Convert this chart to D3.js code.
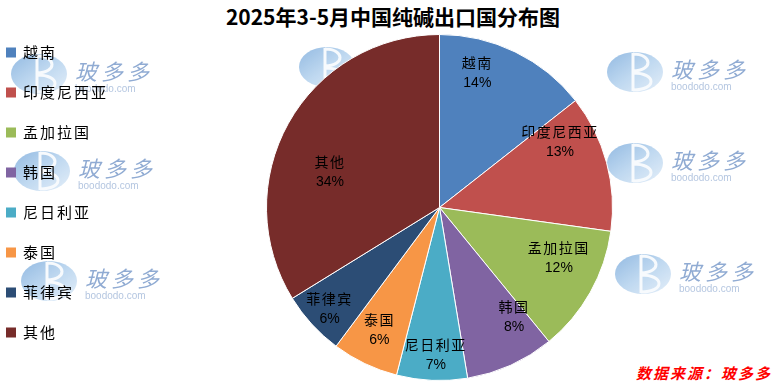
<!DOCTYPE html>
<html>
<head>
<meta charset="utf-8">
<script src="https://cdn.jsdelivr.net/npm/d3@7"></script>
<style>
  html, body { margin: 0; padding: 0; background: #fff; }
  svg { display: block; }
</style>
</head>
<body>
<svg id="chart" width="776" height="392"></svg>
<script>
// ---- data ----
const categories = ["越南", "印度尼西亚", "孟加拉国", "韩国", "尼日利亚", "泰国", "菲律宾", "其他"];
const shares = [14.4, 12.8, 11.9, 8.3, 6.6, 6.2, 6.0, 33.8];
const colors = ["#4F81BD", "#C0504D", "#9BBB59", "#8064A2", "#4BACC6", "#F79646", "#2C4D75", "#772C2A"];
const title = "2025年3-5月中国纯碱出口国分布图";
const source = "数据来源：玻多多";
// label nudges (px) relative to arc centroid, mimicking spreadsheet best-fit placement
const labelNudge = [[-19, -19], [-5, -33], [6, -14], [21, -10], [2, 17], [-4, 4], [-14, 13], [4, 27]];

const svg = d3.select("#chart");
const W = 776, H = 392;
const cx = 439.5, cy = 207.5, R = 173;
const CJK = "'Noto Sans CJK SC', 'Noto Sans', sans-serif";

// ---- watermarks (background) ----
const defs = svg.append("defs");
const grad = defs.append("linearGradient").attr("id", "wmGrad")
  .attr("x1", "0").attr("y1", "0").attr("x2", "1").attr("y2", "1");
grad.append("stop").attr("offset", "0").attr("stop-color", "#6fa3d8");
grad.append("stop").attr("offset", "0.5").attr("stop-color", "#a9cbeb");
grad.append("stop").attr("offset", "1").attr("stop-color", "#dbe9f7");

const watermarks = [[39, 74], [42, 171], [49, 281], [327, 67], [635, 72], [635, 163], [643, 274]];
const wm = svg.append("g").attr("opacity", 0.75);
watermarks.forEach(([x, y]) => {
  const g = wm.append("g").attr("transform", `translate(${x},${y})`);
  g.append("ellipse").attr("rx", 28).attr("ry", 20).attr("fill", "url(#wmGrad)");
  g.append("path")
    .attr("d", "M-2,-19 L-2,19 M-2,-18 C18,-18 18,-1 -2,-1 M-2,1 C22,1 22,18 -2,18")
    .attr("fill", "none").attr("stroke", "#f4f8fc").attr("stroke-width", 3);
  g.append("text").attr("x", 36).attr("y", 6)
    .attr("font-family", CJK).attr("font-size", 22).attr("font-style", "italic")
    .attr("letter-spacing", 4).attr("fill", "#6b8fc4").text("玻多多");
  g.append("text").attr("x", 36).attr("y", 18)
    .attr("font-family", "'Liberation Sans', Arial, sans-serif").attr("font-size", 10)
    .attr("fill", "#9bb3d6").text("boododo.com");
});

// ---- title ----
svg.append("text")
  .attr("x", 393).attr("y", 25)
  .attr("text-anchor", "middle")
  .attr("font-family", CJK)
  .attr("font-weight", "bold")
  .attr("font-size", 21)
  .attr("fill", "#000")
  .text(title);

// ---- pie ----
const pie = d3.pie().value(d => d).sort(null);
const arcs = pie(shares);
const arc = d3.arc().innerRadius(0).outerRadius(R);
const labelArc = d3.arc().innerRadius(130).outerRadius(130);
const color = d3.scaleOrdinal().domain(categories).range(colors);
const total = d3.sum(shares);

const gPie = svg.append("g").attr("transform", `translate(${cx},${cy})`);
gPie.selectAll("path.slice")
  .data(arcs)
  .join("path")
  .attr("class", "slice")
  .attr("d", arc)
  .attr("fill", (d, i) => color(categories[i]))
  .attr("stroke", "#ffffff")
  .attr("stroke-width", 1);

const labels = gPie.selectAll("g.lbl")
  .data(arcs)
  .join("g")
  .attr("class", "lbl")
  .attr("transform", (d, i) => {
    const [x, y] = labelArc.centroid(d);
    return `translate(${x + labelNudge[i][0]},${y + labelNudge[i][1]})`;
  });
labels.append("text")
  .attr("text-anchor", "middle")
  .attr("y", -4)
  .attr("font-family", CJK)
  .attr("font-size", 14)
  .attr("letter-spacing", 1.5)
  .attr("fill", "#000")
  .text((d, i) => categories[i]);
labels.append("text")
  .attr("text-anchor", "middle")
  .attr("y", 15)
  .attr("font-family", "'Liberation Sans', Arial, sans-serif")
  .attr("font-size", 14)
  .attr("fill", "#000")
  .text(d => Math.round(d.data / total * 100) + "%");

// ---- legend ----
const legendY = d3.scalePoint().domain(categories).range([52.5, 332.5]);
const leg = svg.append("g");
const li = leg.selectAll("g").data(categories).join("g")
  .attr("transform", d => `translate(6,${legendY(d)})`);
li.append("rect").attr("x", 0).attr("y", -5).attr("width", 10).attr("height", 10)
  .attr("fill", d => color(d));
li.append("text").attr("x", 17).attr("y", 5.5)
  .attr("font-family", CJK).attr("font-size", 15).attr("letter-spacing", 2)
  .attr("fill", "#000").text(d => d);

// ---- source ----
svg.append("text")
  .attr("x", 772).attr("y", 379)
  .attr("text-anchor", "end")
  .attr("font-family", CJK)
  .attr("font-size", 15)
  .attr("font-weight", "bold")
  .attr("font-style", "italic")
  .attr("letter-spacing", 2)
  .attr("fill", "#ff0000")
  .text(source);
</script>
</body>
</html>
